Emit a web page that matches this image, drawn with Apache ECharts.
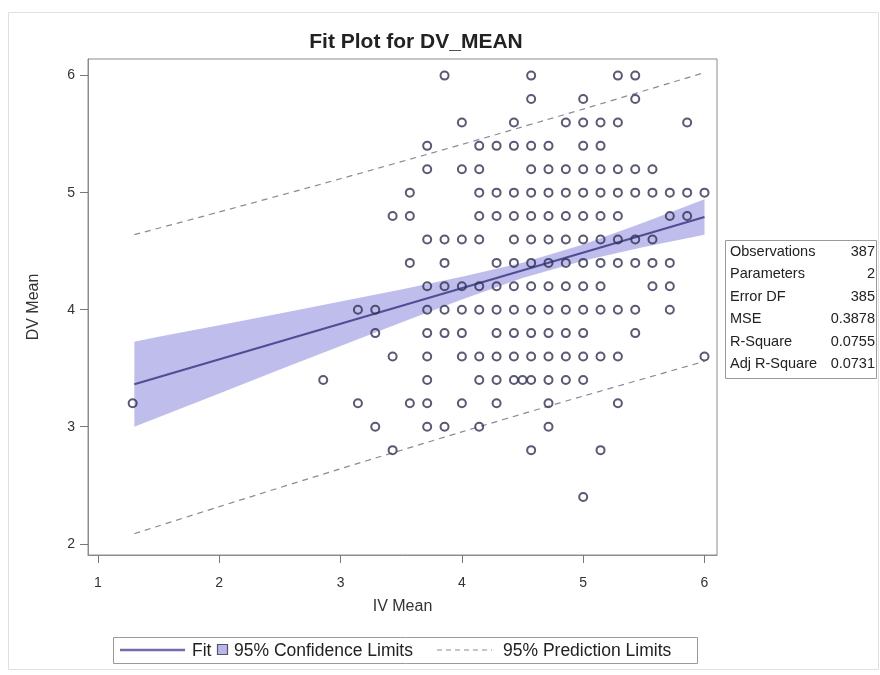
<!DOCTYPE html>
<html>
<head>
<meta charset="utf-8">
<script src="https://cdn.jsdelivr.net/npm/echarts@6/dist/echarts.min.js"></script>
<style>
  html, body { margin: 0; padding: 0; background: #ffffff; }
  #chart { width: 880px; height: 675px; }
</style>
</head>
<body>
<div id="chart"></div>
<script>
// Observed IV means at each DV level (open circles)
const dv60 = [3.857, 4.571, 5.286, 5.429];
const dv58 = [4.571, 5.0, 5.429];
const dv56 = [4.0, 4.429, 4.857, 5.0, 5.143, 5.286, 5.857];
const dv54 = [3.714, 4.143, 4.286, 4.429, 4.571, 4.714, 5.0, 5.143];
const dv52 = [3.714, 4.0, 4.143, 4.571, 4.714, 4.857, 5.0, 5.143, 5.286, 5.429, 5.571];
const dv50 = [3.571, 4.143, 4.286, 4.429, 4.571, 4.714, 4.857, 5.0, 5.143, 5.286, 5.429, 5.571, 5.714, 5.857, 6.0];
const dv48 = [3.429, 3.571, 4.143, 4.286, 4.429, 4.571, 4.714, 4.857, 5.0, 5.143, 5.286, 5.714, 5.857];
const dv46 = [3.714, 3.857, 4.0, 4.143, 4.429, 4.571, 4.714, 4.857, 5.0, 5.143, 5.286, 5.429, 5.571];
const dv44 = [3.571, 3.857, 4.286, 4.429, 4.571, 4.714, 4.857, 5.0, 5.143, 5.286, 5.429, 5.571, 5.714];
const dv42 = [3.714, 3.857, 4.0, 4.143, 4.286, 4.429, 4.571, 4.714, 4.857, 5.0, 5.143, 5.571, 5.714];
const dv40 = [3.143, 3.286, 3.714, 3.857, 4.0, 4.143, 4.286, 4.429, 4.571, 4.714, 4.857, 5.0, 5.143, 5.286, 5.429, 5.714];
const dv38 = [3.286, 3.714, 3.857, 4.0, 4.286, 4.429, 4.571, 4.714, 4.857, 5.0, 5.429];
const dv36 = [3.429, 3.714, 4.0, 4.143, 4.286, 4.429, 4.571, 4.714, 4.857, 5.0, 5.143, 5.286, 6.0];
const dv34 = [2.857, 3.714, 4.143, 4.286, 4.429, 4.5, 4.571, 4.714, 4.857, 5.0];
const dv32 = [1.286, 3.143, 3.571, 3.714, 4.0, 4.286, 4.714, 5.286];
const dv30 = [3.286, 3.714, 3.857, 4.143, 4.714];
const dv28 = [3.429, 4.571, 5.143];
const dv24 = [5.0];

const dvLevels = [6.0, 5.8, 5.6, 5.4, 5.2, 5.0, 4.8, 4.6, 4.4, 4.2, 4.0, 3.8, 3.6, 3.4, 3.2, 3.0, 2.8, 2.4];
const ivRows = [dv60, dv58, dv56, dv54, dv52, dv50, dv48, dv46, dv44, dv42, dv40, dv38, dv36, dv34, dv32, dv30, dv28, dv24];

// Fitted line end points
const fitX = [1.3, 6.0];
const fitY = [3.363, 4.792];

// 95% confidence band for the mean
const ciX     = [1.3,   1.5,   2.0,   2.5,   3.0,   3.5,   4.0,   4.5,   5.0,   5.5,   6.0];
const ciUpper = [3.727, 3.768, 3.868, 3.968, 4.070, 4.173, 4.281, 4.402, 4.558, 4.745, 4.943];
const ciLower = [2.999, 3.081, 3.284, 3.488, 3.690, 3.891, 4.087, 4.270, 4.418, 4.535, 4.641];

// 95% prediction limits
const piX     = [1.3,   2.0,   3.0,   4.0,   4.7,   5.0,   6.0];
const piUpper = [4.641, 4.835, 5.119, 5.412, 5.623, 5.714, 6.026];
const piLower = [2.086, 2.317, 2.641, 2.956, 3.171, 3.262, 3.559];

// Axis ticks
const xTicks = [1, 2, 3, 4, 5, 6];
const yTicks = [2, 3, 4, 5, 6];

// Fit statistics panel
const statLabels = ['Observations', 'Parameters', 'Error DF', 'MSE', 'R-Square', 'Adj R-Square'];
const statValues = ['387', '2', '385', '0.3878', '0.0755', '0.0731'];

const FONT = '"Liberation Sans", Arial, Helvetica, sans-serif';

const points = [];
dvLevels.forEach((y, i) => ivRows[i].forEach(x => points.push([x, y])));

const chart = echarts.init(document.getElementById('chart'), null, { renderer: 'canvas' });

// Outer frame of the figure
const frameGraphics = [
  { type: 'rect', shape: { x: 8.5, y: 12.5, width: 870, height: 657 },
    style: { fill: 'none', stroke: '#e0e0e0', lineWidth: 1 }, z: -1 }
];

const statGraphics = [];
statGraphics.push({
  type: 'rect', shape: { x: 725.5, y: 240.5, width: 151, height: 138 },
  style: { fill: '#ffffff', stroke: '#9a9a9a', lineWidth: 1 }
});
statLabels.forEach((lab, i) => {
  const yy = 252 + i * 22.4;
  statGraphics.push({
    type: 'text', x: 730, y: yy,
    style: { text: lab, font: '14.5px ' + FONT, fill: '#222', textVerticalAlign: 'middle', textAlign: 'left' }
  });
  statGraphics.push({
    type: 'text', x: 875, y: yy,
    style: { text: statValues[i], font: '14.5px ' + FONT, fill: '#222', textVerticalAlign: 'middle', textAlign: 'right' }
  });
});

const legendGraphics = [
  { type: 'rect', shape: { x: 113.5, y: 637.5, width: 584, height: 26 },
    style: { fill: '#ffffff', stroke: '#9a9a9a', lineWidth: 1 } },
  { type: 'line', shape: { x1: 120, y1: 650, x2: 185, y2: 650 },
    style: { stroke: '#716bae', lineWidth: 2.5 } },
  { type: 'text', x: 192, y: 651,
    style: { text: 'Fit', font: '17.5px ' + FONT, fill: '#222', textVerticalAlign: 'middle' } },
  { type: 'rect', shape: { x: 217.5, y: 644.5, width: 10, height: 10 },
    style: { fill: '#b8b6ea', stroke: '#555566', lineWidth: 1.2 } },
  { type: 'text', x: 234, y: 651,
    style: { text: '95% Confidence Limits', font: '17.5px ' + FONT, fill: '#222', textVerticalAlign: 'middle' } },
  { type: 'line', shape: { x1: 437, y1: 650, x2: 492, y2: 650 },
    style: { stroke: '#8a8a99', lineWidth: 1.2, lineDash: [5, 4] } },
  { type: 'text', x: 503, y: 651,
    style: { text: '95% Prediction Limits', font: '17.5px ' + FONT, fill: '#222', textVerticalAlign: 'middle' } }
];

const option = {
  backgroundColor: '#ffffff',
  animation: false,
  title: {
    text: 'Fit Plot for DV_MEAN',
    left: 411, top: 27, textAlign: 'center',
    textStyle: { fontFamily: FONT, fontSize: 21, fontWeight: 'bold', color: '#222' }
  },
  grid: {
    left: 88, top: 59, width: 629, height: 496,
    show: true, borderColor: '#8c8c8c', borderWidth: 1, backgroundColor: 'transparent'
  },
  xAxis: {
    type: 'value', min: 0.918, max: 6.103,
    name: 'IV Mean', nameLocation: 'middle', nameGap: 44,
    nameTextStyle: { fontFamily: FONT, fontSize: 16, color: '#333' },
    axisLine: { show: true, lineStyle: { color: '#8c8c8c' } },
    axisTick: { show: true, length: 8, lineStyle: { color: '#777' }, customValues: xTicks },
    axisLabel: { fontFamily: FONT, fontSize: 14, color: '#333', margin: 21, customValues: xTicks },
    splitLine: { show: false }
  },
  yAxis: {
    type: 'value', min: 1.904, max: 6.142,
    name: 'DV Mean', nameLocation: 'middle', nameGap: 46,
    nameTextStyle: { fontFamily: FONT, fontSize: 16, color: '#333' },
    axisLine: { show: true, lineStyle: { color: '#8c8c8c' } },
    axisTick: { show: true, length: 8, lineStyle: { color: '#777' }, customValues: yTicks },
    axisLabel: { fontFamily: FONT, fontSize: 14, color: '#333', margin: 13, customValues: yTicks },
    splitLine: { show: false }
  },
  series: [
    {
      name: '95% Confidence Limits',
      type: 'custom',
      z: 1,
      data: [[ciX[0], ciLower[0]]],
      renderItem: function (params, api) {
        const pts = [];
        for (let i = 0; i < ciX.length; i++) pts.push(api.coord([ciX[i], ciUpper[i]]));
        for (let i = ciX.length - 1; i >= 0; i--) pts.push(api.coord([ciX[i], ciLower[i]]));
        return {
          type: 'polygon',
          shape: { points: pts, smooth: 0 },
          style: { fill: 'rgba(140,138,222,0.56)', stroke: null }
        };
      }
    },
    {
      name: 'Upper PI', type: 'line', z: 2, smooth: 0.3, symbol: 'none',
      data: piX.map((x, i) => [x, piUpper[i]]),
      lineStyle: { color: '#8a8a99', width: 1.2, type: [6, 5] }
    },
    {
      name: 'Lower PI', type: 'line', z: 2, smooth: 0.3, symbol: 'none',
      data: piX.map((x, i) => [x, piLower[i]]),
      lineStyle: { color: '#8a8a99', width: 1.2, type: [6, 5] }
    },
    {
      name: 'Fit', type: 'line', z: 3, symbol: 'none',
      data: fitX.map((x, i) => [x, fitY[i]]),
      lineStyle: { color: '#524c94', width: 2.2 }
    },
    {
      name: 'DV_MEAN', type: 'scatter', z: 4,
      symbol: 'circle', symbolSize: 8,
      data: points,
      itemStyle: { color: 'rgba(255,255,255,0)', borderColor: '#2f2f52', borderWidth: 2 }
    }
  ],
  graphic: frameGraphics.concat(statGraphics, legendGraphics)
};

chart.setOption(option);
</script>
</body>
</html>
